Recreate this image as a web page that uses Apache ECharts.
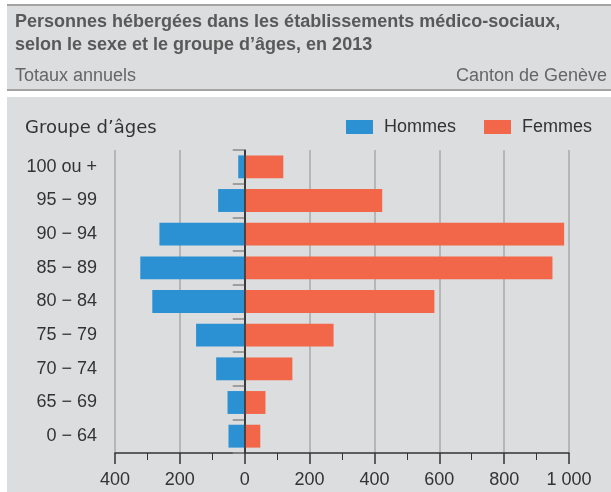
<!DOCTYPE html>
<html><head><meta charset="utf-8">
<script src="https://cdn.jsdelivr.net/npm/echarts@6/dist/echarts.min.js"></script>
<style>html,body{margin:0;padding:0;background:#fff}#c{width:611px;height:492px}</style>
</head><body><div id="c"></div>
<script>
const categories = ['100 ou +','95 − 99','90 − 94','85 − 89','80 − 84','75 − 79','70 − 74','65 − 69','0 − 64'];
const hommes = [20, 82, 263, 322, 285, 150, 88, 53, 50];
const femmes = [119, 424, 985, 949, 585, 274, 147, 64, 48];
const xTicks = [-400, -200, 0, 200, 400, 600, 800, 1000];

const chart = echarts.init(document.getElementById('c'), null, {renderer:'canvas'});
const fmt = v => { const a = Math.abs(v); return a >= 1000 ? String(a).replace(/\B(?=(\d{3})+(?!\d))/g, ' ') : String(a); };
chart.setOption({
  animation: false,
  textStyle: {fontFamily: 'Liberation Sans, Arial, sans-serif'},
  graphic: [
    {type:'rect', shape:{x:7,y:5,width:604,height:86}, style:{fill:'#dcdddf'}, z:-10},
    {type:'line', shape:{x1:7,y1:5,x2:611,y2:5}, style:{stroke:'#a3a3a3', lineWidth:2}, z:-9},
    {type:'line', shape:{x1:7,y1:90,x2:611,y2:90}, style:{stroke:'#a3a3a3', lineWidth:2}, z:-9},
    {type:'rect', shape:{x:7,y:97,width:604,height:395}, style:{fill:'#dcdddf'}, z:-10}
  ],
  title: [
    {text:'Personnes hébergées dans les établissements médico-sociaux,\nselon le sexe et le groupe d’âges, en 2013', left:15, top:11, padding:0,
     textStyle:{fontSize:18, fontWeight:'bold', color:'#595959', lineHeight:23}},
    {text:'Totaux annuels', left:15, top:67, padding:0, textStyle:{fontSize:18, fontWeight:'normal', color:'#666'}},
    {text:'Canton de Genève', right:4, top:67, padding:0, textStyle:{fontSize:18, fontWeight:'normal', color:'#666'}},
    {text:'Groupe d’âges', left:25, top:119, padding:0, textStyle:{fontSize:18, fontWeight:'normal', color:'#333', fontFamily:'DejaVu Sans'}}
  ],
  legend: {
    data: ['Hommes','Femmes'], left: 346, top: 118, padding:0, itemWidth: 27, itemHeight: 14, itemGap: 28,
    icon: 'rect', textStyle:{fontSize:18, color:'#333', padding:[0,0,0,6]}
  },
  grid: {left:115, right:42, top:150, bottom:39, containLabel:false},
  xAxis: {
    type:'value', min:-400, max:1000, interval:200,
    axisLine:{show:true, lineStyle:{color:'#333', width:1.5}},
    axisTick:{show:true, length:11, lineStyle:{color:'#333', width:1.5}},
    minorTick:{show:true, splitNumber:2, length:7, lineStyle:{color:'#333', width:1}},
    splitLine:{show:true, lineStyle:{color:'#a9a9a9', width:1.5}},
    axisLabel:{fontSize:18, color:'#333', margin:18, formatter: fmt}
  },
  yAxis: {
    type:'category', data: categories, inverse:true,
    axisLine:{show:true, lineStyle:{color:'#333', width:1.5}},
    axisTick:{show:true, length:12, alignWithLabel:false, lineStyle:{color:'#8a8a8a', width:1.5}},
    axisLabel:{fontSize:18, color:'#333', margin:18},
    splitLine:{show:false}
  },
  series: [
    {name:'Hommes', type:'bar', stack:'t', data: hommes.map(v => -v), barCategoryGap:'32%',
     itemStyle:{color:'#2b91d3'},
     markLine:{silent:true, symbol:'none', label:{show:false}, lineStyle:{color:'#333', type:'solid', width:1.5}, data:[{xAxis:0}], z:10}},
    {name:'Femmes', type:'bar', stack:'t', data: femmes, barCategoryGap:'32%', itemStyle:{color:'#f26649'}}
  ]
});
</script></body></html>
